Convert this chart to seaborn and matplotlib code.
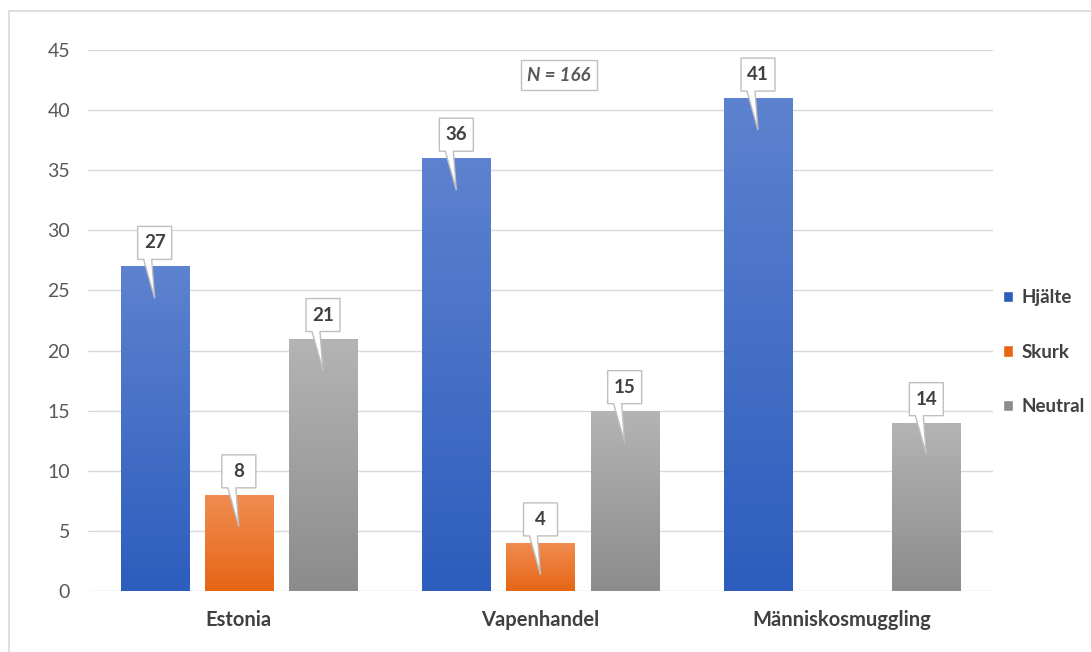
import matplotlib
matplotlib.use('Agg')
import matplotlib.pyplot as plt
from matplotlib.patches import Polygon, Rectangle
from matplotlib.colors import LinearSegmentedColormap
import seaborn as sns
import pandas as pd
import numpy as np

# Data
categories = ['Estonia', 'Vapenhandel', 'Människosmuggling']
series = ['Hjälte', 'Skurk', 'Neutral']
hjalte = [27, 36, 41]
skurk = [8, 4, np.nan]
neutral = [21, 15, 14]
y_ticks = [0, 5, 10, 15, 20, 25, 30, 35, 40, 45]
note = 'N = 166'

# gradient colours (top, bottom) per series
grad = {'Hjälte': ('#5D82CF', '#2D5DBD'),
        'Skurk': ('#F08C50', '#E66616'),
        'Neutral': ('#B4B4B4', '#8C8C8C')}

df = pd.DataFrame({'category': categories * 3,
                   'series': np.repeat(series, 3),
                   'value': hjalte + skurk + neutral})

sns.set_style('white')
plt.rcParams['font.family'] = ['Lato', 'DejaVu Sans']

fig = plt.figure(figsize=(10.91, 6.52), dpi=100)
W, H = 1091, 652
ax = fig.add_axes([88 / W, 61 / H, 905 / W, 541 / H])

sns.barplot(data=df, x='category', y='value', hue='series', order=categories,
            hue_order=series, palette=[grad[s][1] for s in series],
            width=0.837, gap=0.19, ax=ax, zorder=2, saturation=1)

ax.set_xlim(-0.5, 2.5)
ax.set_ylim(0, 45)
ax.set_yticks(y_ticks)
ax.grid(axis='y', color='#D9D9D9', lw=1, zorder=0)
ax.set_axisbelow(True)
for s in ax.spines.values():
    s.set_visible(False)
ax.set_xlabel('')
ax.set_ylabel('')
ax.tick_params(axis='y', length=0, pad=13, labelsize=14, labelcolor='#595959')
ax.tick_params(axis='x', length=0, pad=14, labelsize=14.5, labelcolor='#404040')
for t in ax.get_xticklabels():
    t.set_fontweight('bold')

# px -> data unit conversion
ux = 3 / 905
uy = 45 / 541

# gradient fill + callout labels
for cont, s in zip(ax.containers, series):
    cmap = LinearSegmentedColormap.from_list(s, [grad[s][1], grad[s][0]])
    for bar, v in zip(cont.patches, cont.datavalues):
        if np.isnan(v) or v == 0:
            continue
        x0, w = bar.get_x(), bar.get_width()
        bar.set_edgecolor('none')
        im = ax.imshow(np.linspace(0, 1, 100).reshape(-1, 1), cmap=cmap, origin='lower',
                       extent=[x0, x0 + w, 0, v], aspect='auto', zorder=2.5)
        im.set_clip_path(bar)
        cx = x0 + w / 2
        b = v + 7 * uy
        verts = [(cx - 17 * ux, b), (cx - 11 * ux, b), (cx, v - 32 * uy), (cx - 3 * ux, b),
                 (cx + 17 * ux, b), (cx + 17 * ux, b + 33 * uy), (cx - 17 * ux, b + 33 * uy)]
        ax.add_patch(Polygon(verts, closed=True, facecolor='white', edgecolor='#BFBFBF',
                             lw=1, zorder=4))
        ax.text(cx, b + 16.5 * uy, f'{int(v)}', ha='center', va='center', fontsize=13.5,
                fontweight='bold', color='#404040', zorder=5)

ax.set_aspect('auto')

ax.text(1.061, 42.9, note, ha='center', va='center', fontsize=13.5, fontweight='bold',
        style='italic', color='#595959', zorder=5,
        bbox=dict(boxstyle='square,pad=0.35', fc='white', ec='#BFBFBF', lw=1))

handles, labels = ax.get_legend_handles_labels()
ax.legend(handles, labels, loc='center left', bbox_to_anchor=(1003 / W, (H - 352) / H),
          bbox_transform=fig.transFigure, frameon=False, handlelength=0.55,
          handleheight=0.55, handletextpad=0.45, labelspacing=2.0, borderpad=0,
          borderaxespad=0, prop={'weight': 'bold', 'size': 13.5}, labelcolor='#404040')

# outer chart border (cropped on right/bottom)
fig.patches.append(Rectangle((9 / W, -0.1), 1.2, 1.1 - 11 / H, transform=fig.transFigure,
                             fill=False, ec='#D9D9D9', lw=1.2, figure=fig))

fig.savefig('out.png', dpi=100)
